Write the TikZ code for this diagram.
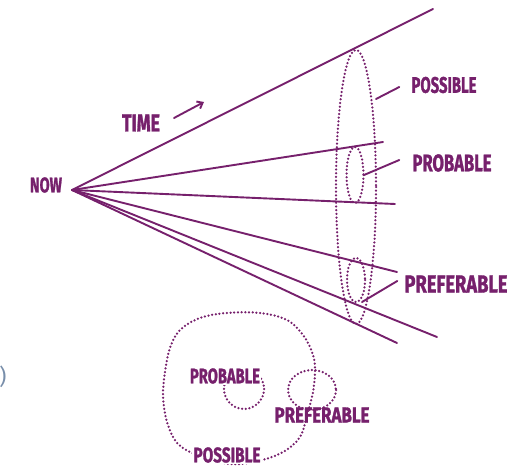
\documentclass[tikz,border=0pt]{standalone}
\usepackage{fontspec}
\setmainfont{Fira Sans}
\newfontfamily\handfont{Fira Sans}[BoldFeatures={FakeBold=1.5}]
\usepackage{graphicx}
\usetikzlibrary{arrows.meta}

% handwritten-looking caps: width, cap height, text
\newcommand{\hand}[3]{\resizebox{#1pt}{#2pt}{\handfont\bfseries #3}}

\begin{document}
\begin{tikzpicture}[x=1pt,y=-1pt]
\definecolor{SketchPurple}{RGB}{118,32,108}
\definecolor{ScanGray}{RGB}{120,142,170}
\tikzset{
  fan/.style={SketchPurple, line width=1.9pt, line cap=round},
  dotline/.style={SketchPurple, line width=2.5pt, line cap=round, dash pattern=on 0pt off 3.7pt},
  lbl/.style={SketchPurple, inner sep=0pt},
}
\useasboundingbox (0,0) rectangle (522,473);

% ======================= OBEN: FAECHER DER ZUKUENFTE =======================
\begin{scope}
  \coordinate (now) at (72,190);
  \node[lbl] (nowlbl) at (46,185) {\hand{32}{15}{NOW}};

  % Zeitpfeil
  \node[lbl] (timelbl) at (141,123) {\hand{38}{17}{TIME}};
  \coordinate (t0) at (174,118);
  \coordinate (t1) at (204,102);
  \draw[fan, -{Straight Barb[length=5pt,width=8pt]}] (t0) -- (t1);

  % Strahlen
  \coordinate (e1) at (433,9);
  \coordinate (e2) at (383,142);
  \coordinate (e3) at (395,204);
  \coordinate (e4) at (397,272);
  \coordinate (e5) at (437,337);
  \coordinate (e6) at (397,343);
  \foreach \e in {e1,e2,e3,e4,e5,e6}
    \draw[fan] (now) -- (\e);

  % Kegelschnitte
  \draw[dotline] (356,187) ellipse [x radius=20, y radius=137];
  \draw[dotline] (355,175) ellipse [x radius=8.5, y radius=28];
  \draw[dotline] (356,280) ellipse [x radius=9, y radius=22];

  % Beschriftungen
  \node[lbl] (possible) at (444,85) {\hand{65}{16}{POSSIBLE}};
  \node[lbl] (probable) at (452,163) {\hand{79}{17}{PROBABLE}};
  \node[lbl] (preferable) at (456,284) {\hand{103}{17}{PREFERABLE}};
  \coordinate (c1) at (376,99);
  \coordinate (c2) at (364,175);
  \coordinate (c3) at (362,302);
  \draw[fan] (possible.west) ++(-12,2) -- (c1);
  \draw[fan] (probable.west) ++(-13,-3) -- (c2);
  \draw[fan] (preferable.west) ++(-7,-3) -- (c3);
\end{scope}

% ======================= UNTEN: MENGENBILD =======================
\begin{scope}
  \node[lbl] (preferable2) at (322,415) {\hand{95}{15}{PREFERABLE}};
  \draw[dotline] plot[smooth cycle, tension=0.6] coordinates {
    (227,313) (260,313) (287,320) (303,335) (312,352) (315,368) (313,392)
    (307,415) (300,437) (283,452) (258,461) (230,464) (200,456) (183,448)
    (173,437) (166,418) (163,395) (165,372) (170,348) (180,330) (200,318)};
  \draw[dotline] (244,389) circle [radius=20];
  \draw[dotline] (312,390) ellipse [x radius=24, y radius=20];
  \node[lbl, fill=white, inner sep=1pt] (probable2) at (225,376) {\hand{70}{15}{PROBABLE}};
  \node[lbl, fill=white, inner sep=1pt] (possible2) at (227,455) {\hand{67}{15}{POSSIBLE}};
\end{scope}

% Rest vom Scan
\node[text=ScanGray, inner sep=0pt, font=\fontsize{22}{22}\selectfont] (paren) at (3,377) {)};

\end{tikzpicture}
\end{document}
